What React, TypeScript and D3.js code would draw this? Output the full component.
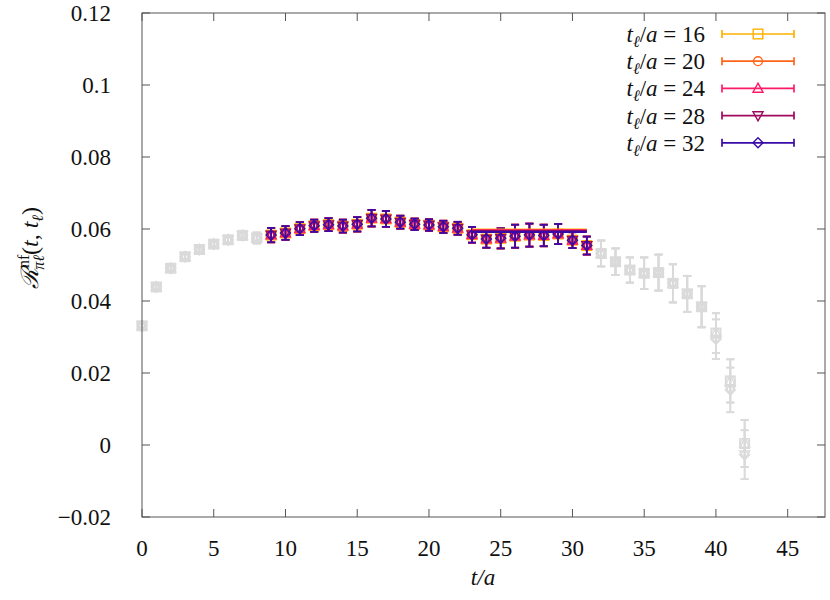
import React from "react";
import * as d3 from "d3";

// ---- data ----
const tValues = [0,1,2,3,4,5,6,7,8,9,10,11,12,13,14,15,16,17,18,19,20,21,22,23,24,25,26,27,28,29,30,31,32,33,34,35,36,37,38,39,40,41,42];
const ratioMain = [0.0331,0.0439,0.0491,0.0523,0.0543,0.0558,0.0570,0.0582,0.0575,0.0583,0.0589,0.0601,0.0609,0.0612,0.0608,0.0613,0.0630,0.0628,0.0619,0.0613,0.0611,0.0606,0.0602,0.0584,0.0572,0.0574,0.0580,0.0583,0.0582,0.0586,0.0569,0.0554,0.0532,0.0509,0.0486,0.0477,0.0479,0.0449,0.0420,0.0384,0.0311,0.0178,0.0004];
const ratioErr = [0.0005,0.0006,0.0007,0.0008,0.0009,0.0010,0.0011,0.0013,0.0015,0.0020,0.0019,0.0018,0.0017,0.0018,0.0018,0.0020,0.0023,0.0022,0.0018,0.0016,0.0016,0.0017,0.0018,0.0022,0.0024,0.0028,0.0032,0.0032,0.0030,0.0028,0.0022,0.0025,0.0036,0.0037,0.0035,0.0044,0.0050,0.0053,0.0050,0.0057,0.0055,0.0060,0.0065];
// late-time points where the series separate (t = 40, 41, 42)
const tailT = [40, 41, 42];
const tailAlt = [0.0294, 0.0153, -0.0027];
const tailAltErr = [0.0055, 0.0062, 0.0068];

const seriesLabels = ["16", "20", "24", "28", "32"];
const seriesColors = ["#ffb000", "#ff6418", "#ff1a68", "#a0085c", "#3a0aa8"];
const seriesShapes = ["square", "circle", "triangle", "itriangle", "diamond"];
const colorRange = [9, 31];
const fitRange = [23, 31];
const fitValues = [0.0598, 0.0597, 0.0596, 0.0594, 0.0592];

const xTicks = [0, 5, 10, 15, 20, 25, 30, 35, 40, 45];
const yTicks = [0.12, 0.1, 0.08, 0.06, 0.04, 0.02, 0, -0.02];
const yTickLabels = ["0.12", "0.1", "0.08", "0.06", "0.04", "0.02", "0", "\u22120.02"];

const GRAY = "#dadada";
const FONT = "'Liberation Serif', 'DejaVu Serif', serif";

function Marker({ shape, x, y, color, sw = 1.4 }: any) {
  const s = 4.8;
  if (shape === "square")
    return <rect x={x - s} y={y - s} width={2 * s} height={2 * s} fill="none" stroke={color} strokeWidth={sw} />;
  if (shape === "circle")
    return <circle cx={x} cy={y} r={4.4} fill="none" stroke={color} strokeWidth={sw} />;
  if (shape === "triangle")
    return <path d={`M${x},${y - 5.2}L${x + 5},${y + 3.8}L${x - 5},${y + 3.8}Z`} fill="none" stroke={color} strokeWidth={sw} />;
  if (shape === "itriangle")
    return <path d={`M${x},${y + 5.2}L${x + 5},${y - 3.8}L${x - 5},${y - 3.8}Z`} fill="none" stroke={color} strokeWidth={sw} />;
  return <path d={`M${x},${y - 5}L${x + 5},${y}L${x},${y + 5}L${x - 5},${y}Z`} fill="none" stroke={color} strokeWidth={sw} />;
}

function ErrBar({ x, y0, y1, color, sw = 1.7 }: any) {
  const c = 4;
  return (
    <g stroke={color} strokeWidth={sw}>
      <line x1={x} x2={x} y1={y0} y2={y1} />
      <line x1={x - c} x2={x + c} y1={y0} y2={y0} />
      <line x1={x - c} x2={x + c} y1={y1} y2={y1} />
    </g>
  );
}

export default function App() {
  const left = 142, right = 825, top = 13, bottom = 517;
  const x = d3.scaleLinear().domain([0, 47.6]).range([left, right]);
  const y = d3.scaleLinear().domain([-0.02, 0.12]).range([bottom, top]);

  const grayEls: any[] = [];
  const colorEls: any[] = [];
  seriesShapes.forEach((shape, si) => {
    tValues.forEach((t, i) => {
      let v = ratioMain[i];
      let e = ratioErr[i];
      const k = tailT.indexOf(t);
      if (k >= 0 && si >= 3) { v = tailAlt[k]; e = tailAltErr[k]; }
      const inColor = t >= colorRange[0] && t <= colorRange[1];
      const el = (
        <g key={`${si}-${t}`}>
          <ErrBar x={x(t)} y0={y(v + e)} y1={y(v - e)} color={inColor ? seriesColors[si] : GRAY} />
          <Marker shape={shape} x={x(t)} y={y(v)} color={inColor ? seriesColors[si] : GRAY} />
        </g>
      );
      if (inColor) colorEls.push(el); else grayEls.push(el);
    });
  });

  return (
    <svg width={830} height={600} style={{ position: "absolute", left: 0, top: 0, background: "#fff" }} fontFamily={FONT}>
      {grayEls}
      {colorEls}
      {/* fit lines */}
      {fitValues.map((v, si) => (
        <line key={si} x1={x(fitRange[0])} x2={x(fitRange[1])} y1={y(v)} y2={y(v)} stroke={seriesColors[si]} strokeWidth={2.2} />
      ))}
      {/* border */}
      <rect x={left} y={top} width={right - left} height={bottom - top} fill="none" stroke="#555" strokeWidth={1} />
      {xTicks.map((t) => (
        <g key={t} stroke="#555" strokeWidth={1}>
          <line x1={x(t)} x2={x(t)} y1={bottom} y2={bottom - 8} />
          <line x1={x(t)} x2={x(t)} y1={top} y2={top + 8} />
        </g>
      ))}
      {yTicks.map((v) => (
        <g key={v} stroke="#555" strokeWidth={1}>
          <line x1={left} x2={left + 8} y1={y(v)} y2={y(v)} />
          <line x1={right} x2={right - 8} y1={y(v)} y2={y(v)} />
        </g>
      ))}
      {xTicks.map((t) => (
        <text key={t} x={x(t)} y={556} textAnchor="middle" fontSize={23} fill="#111">{t}</text>
      ))}
      {yTicks.map((v, i) => (
        <text key={v} x={111} y={y(v) + 8} textAnchor="end" fontSize={23} fill="#111">{yTickLabels[i]}</text>
      ))}
      {/* x label */}
      <text x={483} y={585} textAnchor="middle" fontSize={23} fill="#111" fontStyle="italic">t/a</text>
      {/* y label */}
      <text transform="translate(38,248) rotate(-90)" textAnchor="middle" fontSize={24} fill="#111">
        <tspan fontStyle="italic">ℛ</tspan>
        <tspan fontSize={16} dy={-9}>nf</tspan>
        <tspan fontSize={16} fontStyle="italic" dx={-15} dy={15}>πℓ</tspan>
        <tspan dy={-6}>(</tspan>
        <tspan fontStyle="italic">t</tspan>
        <tspan>, </tspan>
        <tspan fontStyle="italic">t</tspan>
        <tspan fontSize={16} fontStyle="italic" dy={5}>ℓ</tspan>
        <tspan dy={-5}>)</tspan>
      </text>
      {/* legend */}
      {seriesLabels.map((lab, si) => {
        const ly = 34 + si * 27.2;
        return (
          <g key={lab}>
            <text x={705} y={ly + 8} textAnchor="end" fontSize={23} fill="#111">
              <tspan fontStyle="italic">t</tspan>
              <tspan fontSize={16} fontStyle="italic" dy={5}>ℓ</tspan>
              <tspan dy={-5}>/</tspan>
              <tspan fontStyle="italic">a</tspan>
              <tspan> = {lab}</tspan>
            </text>
            <line x1={722} x2={794} y1={ly} y2={ly} stroke={seriesColors[si]} strokeWidth={1.7} />
            <line x1={722} x2={722} y1={ly - 4} y2={ly + 4} stroke={seriesColors[si]} strokeWidth={1.7} />
            <line x1={794} x2={794} y1={ly - 4} y2={ly + 4} stroke={seriesColors[si]} strokeWidth={1.7} />
            <Marker shape={seriesShapes[si]} x={758} y={ly} color={seriesColors[si]} />
          </g>
        );
      })}
    </svg>
  );
}
